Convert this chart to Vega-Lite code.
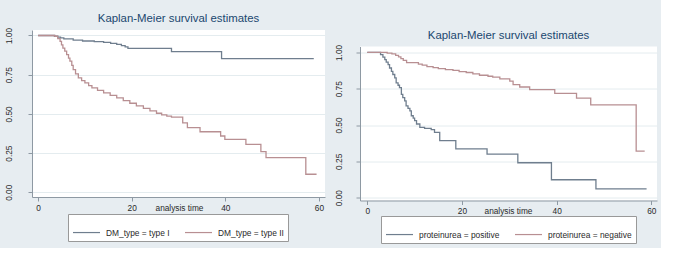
{
  "$schema": "https://vega.github.io/schema/vega-lite/v6.json",
  "background": "#e7edf1",
  "padding": {"left": 3, "top": 13, "right": 4, "bottom": 4},
  "spacing": 8,
  "datasets": {
    "dm": [
      {"group": "DM_type = type I", "t": 0, "s": 1.0},
      {"group": "DM_type = type I", "t": 3.5, "s": 0.995},
      {"group": "DM_type = type I", "t": 4.2, "s": 0.99},
      {"group": "DM_type = type I", "t": 4.8, "s": 0.985},
      {"group": "DM_type = type I", "t": 5.5, "s": 0.978},
      {"group": "DM_type = type I", "t": 7.5, "s": 0.97},
      {"group": "DM_type = type I", "t": 9.5, "s": 0.965},
      {"group": "DM_type = type I", "t": 12, "s": 0.961},
      {"group": "DM_type = type I", "t": 14, "s": 0.956},
      {"group": "DM_type = type I", "t": 15.5, "s": 0.95},
      {"group": "DM_type = type I", "t": 16.8, "s": 0.943},
      {"group": "DM_type = type I", "t": 17.8, "s": 0.935},
      {"group": "DM_type = type I", "t": 18.6, "s": 0.927},
      {"group": "DM_type = type I", "t": 19.2, "s": 0.918},
      {"group": "DM_type = type I", "t": 28.5, "s": 0.897},
      {"group": "DM_type = type I", "t": 39.2, "s": 0.853},
      {"group": "DM_type = type I", "t": 58.9, "s": 0.853},
      {"group": "DM_type = type II", "t": 0, "s": 1.0},
      {"group": "DM_type = type II", "t": 3.6, "s": 0.995},
      {"group": "DM_type = type II", "t": 4.2, "s": 0.98},
      {"group": "DM_type = type II", "t": 4.7, "s": 0.963},
      {"group": "DM_type = type II", "t": 5.0, "s": 0.94},
      {"group": "DM_type = type II", "t": 5.3, "s": 0.92},
      {"group": "DM_type = type II", "t": 5.7, "s": 0.9},
      {"group": "DM_type = type II", "t": 6.1, "s": 0.878},
      {"group": "DM_type = type II", "t": 6.5, "s": 0.856},
      {"group": "DM_type = type II", "t": 6.8, "s": 0.836},
      {"group": "DM_type = type II", "t": 7.2, "s": 0.81},
      {"group": "DM_type = type II", "t": 7.5, "s": 0.782},
      {"group": "DM_type = type II", "t": 8.0, "s": 0.755},
      {"group": "DM_type = type II", "t": 8.6, "s": 0.73},
      {"group": "DM_type = type II", "t": 9.3, "s": 0.712},
      {"group": "DM_type = type II", "t": 10.0, "s": 0.698},
      {"group": "DM_type = type II", "t": 10.8, "s": 0.68},
      {"group": "DM_type = type II", "t": 11.5, "s": 0.666},
      {"group": "DM_type = type II", "t": 12.7, "s": 0.65},
      {"group": "DM_type = type II", "t": 14.0, "s": 0.634},
      {"group": "DM_type = type II", "t": 15.4, "s": 0.618},
      {"group": "DM_type = type II", "t": 16.8, "s": 0.602},
      {"group": "DM_type = type II", "t": 18.2, "s": 0.585},
      {"group": "DM_type = type II", "t": 19.6, "s": 0.568},
      {"group": "DM_type = type II", "t": 21.0, "s": 0.551},
      {"group": "DM_type = type II", "t": 22.5, "s": 0.535},
      {"group": "DM_type = type II", "t": 23.9, "s": 0.519},
      {"group": "DM_type = type II", "t": 25.3, "s": 0.504},
      {"group": "DM_type = type II", "t": 26.4, "s": 0.494},
      {"group": "DM_type = type II", "t": 27.5, "s": 0.486},
      {"group": "DM_type = type II", "t": 28.5, "s": 0.48},
      {"group": "DM_type = type II", "t": 30.9, "s": 0.443},
      {"group": "DM_type = type II", "t": 31.9, "s": 0.412},
      {"group": "DM_type = type II", "t": 34.6, "s": 0.386},
      {"group": "DM_type = type II", "t": 39.0, "s": 0.359},
      {"group": "DM_type = type II", "t": 39.9, "s": 0.337},
      {"group": "DM_type = type II", "t": 44.4, "s": 0.305},
      {"group": "DM_type = type II", "t": 47.6, "s": 0.259},
      {"group": "DM_type = type II", "t": 48.7, "s": 0.221},
      {"group": "DM_type = type II", "t": 57.2, "s": 0.115},
      {"group": "DM_type = type II", "t": 59.5, "s": 0.115}
    ],
    "prot": [
      {"group": "proteinurea = positive", "t": 0, "s": 1.0},
      {"group": "proteinurea = positive", "t": 2.8, "s": 0.985},
      {"group": "proteinurea = positive", "t": 3.3, "s": 0.968},
      {"group": "proteinurea = positive", "t": 3.7, "s": 0.95},
      {"group": "proteinurea = positive", "t": 4.0, "s": 0.933},
      {"group": "proteinurea = positive", "t": 4.4, "s": 0.916},
      {"group": "proteinurea = positive", "t": 4.7, "s": 0.893},
      {"group": "proteinurea = positive", "t": 5.1, "s": 0.87},
      {"group": "proteinurea = positive", "t": 5.4, "s": 0.848},
      {"group": "proteinurea = positive", "t": 5.8, "s": 0.825},
      {"group": "proteinurea = positive", "t": 6.1, "s": 0.791},
      {"group": "proteinurea = positive", "t": 6.5, "s": 0.774},
      {"group": "proteinurea = positive", "t": 6.8, "s": 0.757},
      {"group": "proteinurea = positive", "t": 7.2, "s": 0.711},
      {"group": "proteinurea = positive", "t": 7.5, "s": 0.689},
      {"group": "proteinurea = positive", "t": 7.9, "s": 0.666},
      {"group": "proteinurea = positive", "t": 8.2, "s": 0.632},
      {"group": "proteinurea = positive", "t": 8.6, "s": 0.615},
      {"group": "proteinurea = positive", "t": 9.0, "s": 0.598},
      {"group": "proteinurea = positive", "t": 9.3, "s": 0.564},
      {"group": "proteinurea = positive", "t": 9.7, "s": 0.547},
      {"group": "proteinurea = positive", "t": 10.0, "s": 0.53},
      {"group": "proteinurea = positive", "t": 10.4, "s": 0.507},
      {"group": "proteinurea = positive", "t": 11.1, "s": 0.484},
      {"group": "proteinurea = positive", "t": 12.1, "s": 0.477},
      {"group": "proteinurea = positive", "t": 13.5, "s": 0.468},
      {"group": "proteinurea = positive", "t": 14.2, "s": 0.45},
      {"group": "proteinurea = positive", "t": 15.3, "s": 0.393},
      {"group": "proteinurea = positive", "t": 18.7, "s": 0.336},
      {"group": "proteinurea = positive", "t": 25.3, "s": 0.3},
      {"group": "proteinurea = positive", "t": 31.8, "s": 0.24},
      {"group": "proteinurea = positive", "t": 38.9, "s": 0.123},
      {"group": "proteinurea = positive", "t": 48.3, "s": 0.06},
      {"group": "proteinurea = positive", "t": 59.0, "s": 0.06},
      {"group": "proteinurea = negative", "t": 0, "s": 1.0},
      {"group": "proteinurea = negative", "t": 4.2, "s": 0.995},
      {"group": "proteinurea = negative", "t": 5.2, "s": 0.99},
      {"group": "proteinurea = negative", "t": 6.0, "s": 0.98},
      {"group": "proteinurea = negative", "t": 6.6, "s": 0.97},
      {"group": "proteinurea = negative", "t": 7.1, "s": 0.958},
      {"group": "proteinurea = negative", "t": 7.6, "s": 0.945},
      {"group": "proteinurea = negative", "t": 8.3, "s": 0.93},
      {"group": "proteinurea = negative", "t": 10.8, "s": 0.92},
      {"group": "proteinurea = negative", "t": 11.6, "s": 0.912},
      {"group": "proteinurea = negative", "t": 12.6, "s": 0.902},
      {"group": "proteinurea = negative", "t": 13.9, "s": 0.895},
      {"group": "proteinurea = negative", "t": 15.0, "s": 0.888},
      {"group": "proteinurea = negative", "t": 16.5, "s": 0.882},
      {"group": "proteinurea = negative", "t": 18.1, "s": 0.876},
      {"group": "proteinurea = negative", "t": 19.4, "s": 0.868},
      {"group": "proteinurea = negative", "t": 20.9, "s": 0.862},
      {"group": "proteinurea = negative", "t": 22.3, "s": 0.852},
      {"group": "proteinurea = negative", "t": 23.7, "s": 0.843},
      {"group": "proteinurea = negative", "t": 25.5, "s": 0.836},
      {"group": "proteinurea = negative", "t": 26.5, "s": 0.83},
      {"group": "proteinurea = negative", "t": 28.0, "s": 0.818},
      {"group": "proteinurea = negative", "t": 30.1, "s": 0.802},
      {"group": "proteinurea = negative", "t": 30.8, "s": 0.779},
      {"group": "proteinurea = negative", "t": 32.2, "s": 0.762},
      {"group": "proteinurea = negative", "t": 34.3, "s": 0.744},
      {"group": "proteinurea = negative", "t": 39.6, "s": 0.718},
      {"group": "proteinurea = negative", "t": 44.2, "s": 0.686},
      {"group": "proteinurea = negative", "t": 47.2, "s": 0.639},
      {"group": "proteinurea = negative", "t": 56.8, "s": 0.32},
      {"group": "proteinurea = negative", "t": 58.6, "s": 0.32}
    ]
  },
  "hconcat": [
    {
      "width": 293,
      "height": 167,
      "title": {"text": "Kaplan-Meier survival estimates"},
      "data": {"name": "dm"},
      "mark": {"type": "line", "interpolate": "step-after", "strokeWidth": 1.3},
      "encoding": {
        "x": {
          "field": "t", "type": "quantitative",
          "scale": {"domain": [-1.3, 61.3], "nice": false, "zero": false},
          "axis": {"values": [0, 20, 40, 60], "title": "analysis time", "titleX": 147, "titleY": 6, "titleBaseline": "top", "titleAlign": "center", "grid": false}
        },
        "y": {
          "field": "s", "type": "quantitative",
          "scale": {"domain": [-0.03, 1.035], "nice": false, "zero": false},
          "axis": {"values": [0, 0.25, 0.5, 0.75, 1], "format": ".2f", "labelAngle": 270, "labelPadding": 15, "title": null, "grid": true}
        },
        "color": {
          "field": "group", "type": "nominal",
          "scale": {"domain": ["DM_type = type I", "DM_type = type II"], "range": ["#6f7e8e", "#b88f92"]},
          "legend": {"orient": "none", "legendX": 36, "legendY": 184, "direction": "horizontal", "title": null}
        }
      }
    },
    {
      "spacing": -1.5,
      "vconcat": [
        {
          "width": 297,
          "height": 1,
          "view": {"fill": null, "stroke": null},
          "data": {"values": []},
          "mark": {"type": "rule"},
          "encoding": {}
        },
        {
          "width": 297,
          "height": 154,
          "title": {"text": "Kaplan-Meier survival estimates"},
          "data": {"name": "prot"},
          "mark": {"type": "line", "interpolate": "step-after", "strokeWidth": 1.3},
          "encoding": {
            "x": {
              "field": "t", "type": "quantitative",
              "scale": {"domain": [-1.54, 61.2], "nice": false, "zero": false},
              "axis": {"values": [0, 20, 40, 60], "title": "analysis time", "titleX": 148, "titleY": 6, "titleBaseline": "top", "titleAlign": "center", "grid": false}
            },
            "y": {
              "field": "s", "type": "quantitative",
              "scale": {"domain": [-0.02, 1.041], "nice": false, "zero": false},
              "axis": {"values": [0, 0.25, 0.5, 0.75, 1], "format": ".2f", "labelAngle": 270, "labelPadding": 13, "title": null, "grid": true}
            },
            "color": {
              "field": "group", "type": "nominal",
              "scale": {"domain": ["proteinurea = positive", "proteinurea = negative"], "range": ["#6f7e8e", "#b88f92"]},
              "legend": {"orient": "none", "legendX": 21, "legendY": 186, "direction": "horizontal", "title": null}
            }
          }
        }
      ]
    }
  ],
  "resolve": {"scale": {"color": "independent"}, "legend": {"color": "independent"}},
  "config": {
    "font": "Liberation Sans",
    "view": {"stroke": null, "fill": "white"},
    "title": {"fontSize": 11.4, "fontWeight": "normal", "color": "#1a476f", "offset": 3, "anchor": "middle", "font": "Liberation Sans"},
    "axis": {
      "domainColor": "#8e99a3", "tickColor": "#8e99a3", "tickSize": 4,
      "labelColor": "#2a2a2a", "labelFontSize": 8.3, "labelFont": "Liberation Sans",
      "titleColor": "#2a2a2a", "titleFontSize": 8.3, "titleFontWeight": "normal", "titleFont": "Liberation Sans",
      "gridColor": "#e4ecef", "labelPadding": 2
    },
    "legend": {
      "symbolType": "stroke", "symbolSize": 729, "symbolStrokeWidth": 1.2,
      "labelFontSize": 8.4, "labelColor": "#2a2a2a", "labelFont": "Liberation Sans", "labelOffset": 5,
      "columnPadding": 12, "padding": 4,
      "fillColor": "white", "strokeColor": "#999999", "strokeWidth": 1
    }
  }
}
